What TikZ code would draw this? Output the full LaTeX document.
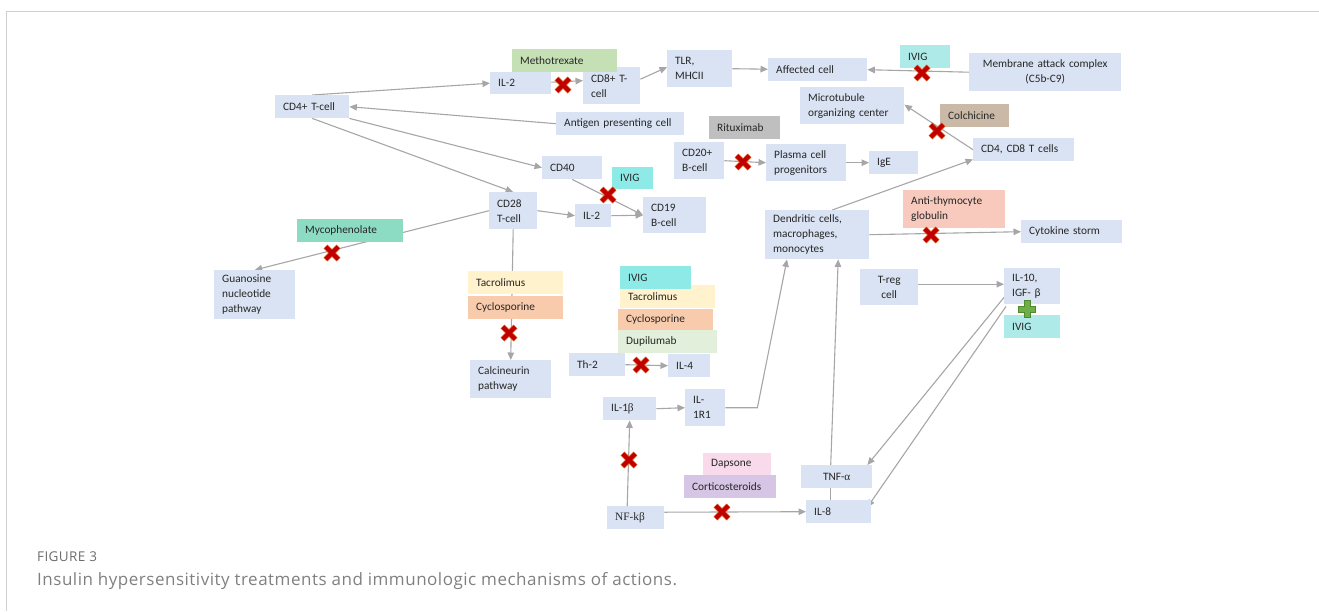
\documentclass[tikz,border=0pt]{standalone}
\usepackage{fontspec}
\setmainfont{Carlito}
\newfontfamily\serifgr{Liberation Serif}
\newfontfamily\capfont[LetterSpace=3]{Open Sans}
\usetikzlibrary{arrows.meta,calc}
\definecolor{boxblue}{HTML}{DAE3F3}
\definecolor{linegray}{HTML}{A6A6A6}
\definecolor{framegray}{HTML}{D0D0D0}
\definecolor{mtxgreen}{HTML}{C5E0B4}
\definecolor{ivigA}{HTML}{8EEAE6}
\definecolor{ivigB}{HTML}{AEEBE8}
\definecolor{mycogreen}{HTML}{8CDCC4}
\definecolor{tacyellow}{HTML}{FFF2CC}
\definecolor{cycorange}{HTML}{F8CBAD}
\definecolor{dupgreen}{HTML}{E2EFDA}
\definecolor{ritgray}{HTML}{BFBFBF}
\definecolor{coltan}{HTML}{C9B9A6}
\definecolor{atgsalmon}{HTML}{F8C9BD}
\definecolor{dappink}{HTML}{F8DAEB}
\definecolor{corlav}{HTML}{D6C5E4}
\definecolor{crossred}{HTML}{C00000}
\definecolor{crossedge}{HTML}{E0601A}
\definecolor{plusgreen}{HTML}{70AD47}
\definecolor{plusedge}{HTML}{4E8A2E}
\definecolor{capgray}{HTML}{808080}
\pgfdeclarelayer{bg}
\pgfsetlayers{bg,main}
% box: [opts]{name}{x1}{y1}{x2}{y2}{fill}{text}
\newcommand\bx[8][]{%
  \pgfmathsetmacro\bxw{#5-#3}%
  \pgfmathsetmacro\bxh{#6-#4}%
  \pgfmathsetmacro\bxt{#5-#3-16}%
  \node[box, fill=#7, minimum width=\bxw pt, minimum height=\bxh pt,
        text width=\bxt pt, anchor=north west, #1] (#2) at (#3,#4) {#8};}
\newcommand\xmk[2]{%
  \draw[line width=5.6pt, crossedge] ({#1-6.5},{#2-6.5}) -- ({#1+6.5},{#2+6.5})
        ({#1-6.5},{#2+6.5}) -- ({#1+6.5},{#2-6.5});
  \draw[line width=4.2pt, crossred] ({#1-6.2},{#2-6.2}) -- ({#1+6.2},{#2+6.2})
        ({#1-6.2},{#2+6.2}) -- ({#1+6.2},{#2-6.2});}
\newcommand\plusmk[2]{%
  \draw[fill=plusgreen, draw=plusedge, line width=0.8pt]
   ({#1-3},{#2-8.5}) -- ({#1+3},{#2-8.5}) -- ({#1+3},{#2-3}) -- ({#1+8.5},{#2-3})
   -- ({#1+8.5},{#2+3}) -- ({#1+3},{#2+3}) -- ({#1+3},{#2+8.5}) -- ({#1-3},{#2+8.5})
   -- ({#1-3},{#2+3}) -- ({#1-8.5},{#2+3}) -- ({#1-8.5},{#2-3}) -- ({#1-3},{#2-3}) -- cycle;}
\begin{document}
\begin{tikzpicture}[x=1pt,y=-1pt,
  box/.style={inner xsep=8pt, inner ysep=0pt, align=left, draw=none,
    font=\fontsize{11.3}{15}\selectfont, text=black!85},
  arr/.style={draw=linegray, line width=1.1pt, -{Triangle[length=7.5pt,width=6.5pt]}},
  plain/.style={draw=linegray, line width=1.1pt}]
\useasboundingbox (0,0) rectangle (1319,611);
\draw[framegray, line width=1.2pt] (6.5,611) -- (6.5,11.5) -- (1319,11.5);

% ---- blue boxes
\bx{il2a}{490}{72}{551}{94}{boxblue}{IL-2}
\bx{cd8}{583}{67}{640}{104}{boxblue}{CD8+ T-\\cell}
\bx{tlr}{667}{50}{732}{87}{boxblue}{TLR,\\MHCII}
\bx{aff}{768}{58}{867}{81}{boxblue}{Affected cell}
\bx[align=center]{mac}{969}{53}{1121}{91}{boxblue}{Membrane attack complex\\(C5b-C9)}
\bx{mtoc}{800}{87}{904}{124}{boxblue}{Microtubule\\organizing center}
\bx{cd48}{973}{138}{1074}{161}{boxblue}{CD4, CD8 T cells}
\bx{cd4}{275}{95}{349}{118}{boxblue}{CD4+ T-cell}
\bx{apc}{556}{112}{684}{135}{boxblue}{Antigen presenting cell}
\bx{cd20}{674}{142}{724}{179}{boxblue}{CD20+\\B-cell}
\bx{plasma}{766}{144}{846}{181}{boxblue}{Plasma cell\\progenitors}
\bx{ige}{869}{151}{918}{174}{boxblue}{IgE}
\bx{cd40}{542}{156}{602}{179}{boxblue}{CD40}
\bx{cd28}{489}{192}{537}{229}{boxblue}{CD28\\T-cell}
\bx{il2b}{575}{204}{611}{227}{boxblue}{IL-2}
\bx{cd19}{643}{197}{706}{233}{boxblue}{CD19\\B-cell}
\bx{dc}{765}{210}{869}{259}{boxblue}{Dendritic cells,\\macrophages,\\monocytes}
\bx{cyt}{1021}{220}{1122}{243}{boxblue}{Cytokine storm}
\bx{guan}{214}{270}{295}{319}{boxblue}{Guanosine\\nucleotide\\pathway}
\bx{calc}{470}{360}{551}{398}{boxblue}{Calcineurin\\pathway}
\bx[align=center]{treg}{860}{269}{918}{305}{boxblue}{T-reg\\cell}
\bx{il10}{1004}{268}{1060}{304}{boxblue}{IL-10,\\IGF- β}
\bx{th2}{569}{353}{625}{376}{boxblue}{Th-2}
\bx{il4}{668}{354}{710}{377}{boxblue}{IL-4}
\bx{il1b}{603}{397}{656}{420}{boxblue}{IL-1{\serifgr β}}
\bx{il1r1}{685}{389}{725}{426}{boxblue}{IL-\\1R1}
\bx{nfk}{607}{506}{664}{529}{boxblue}{{\serifgr NF-kβ}}
\bx[align=center]{tnf}{801}{465}{872}{488}{boxblue}{TNF-{\serifgr α}}
\bx{il8}{806}{500}{871}{523}{boxblue}{IL-8}

% ---- drug boxes
\bx{mtx}{512}{49}{617}{72}{mtxgreen}{Methotrexate}
\bx{ivig1}{900}{45}{950}{68}{ivigB}{IVIG}
\bx{colch}{940}{104}{1009}{127}{coltan}{Colchicine}
\bx{ritux}{709}{116}{780}{139}{ritgray}{Rituximab}
\bx{ivig2}{612}{167}{653}{189}{ivigA}{IVIG}
\bx{atg}{903}{190}{1005}{228}{atgsalmon}{Anti-thymocyte\\globulin}
\bx{myco}{297}{219}{403}{242}{mycogreen}{Mycophenolate}
\bx{tac1}{468}{271}{563}{294}{tacyellow}{Tacrolimus}
\bx{cyc1}{468}{296}{563}{319}{cycorange}{Cyclosporine}
\bx{tac2}{620}{285}{715}{308}{tacyellow}{Tacrolimus}
\bx{ivig3}{620}{266}{691}{289}{ivigA}{IVIG}
\bx{cyc2}{618}{309}{713}{330}{cycorange}{Cyclosporine}
\bx{dup}{618}{330}{717}{353}{dupgreen}{Dupilumab}
\bx{dap}{703}{453}{771}{475}{dappink}{Dapsone}
\bx{cort}{684}{475}{776}{498}{corlav}{Corticosteroids}
\bx{ivig4}{1004}{315}{1060}{338}{ivigB}{IVIG}

% ---- connectors
\begin{pgfonlayer}{bg}
\draw[arr] (cd4.north) -- (il2a.west);
\draw[arr] (apc.west) -- (cd4.east);
\draw[arr] (cd4.south east) -- (cd40.west);
\draw[arr] (cd4.south) -- (cd28.north);
\draw[arr] ($(il2a.east)+(0,-1)$) -- ($(cd8.west)+(0,-5)$);
\draw[arr] ($(cd8.east)+(0,-6.5)$) -- ($(tlr.west)+(0,-1.5)$);
\draw[arr] (tlr.east) -- ($(aff.west)+(0,-0.5)$);
\draw[arr] (mac.west) -- (aff.east);
\draw[arr] (cd48.west) -- ($(mtoc.east)+(0,-1)$);
\draw[arr] ($(dc.north)+(15,0)$) -- ($(cd48.south west)+(0,-2)$);
\draw[arr] (dc.east) -- (cyt.west);
\draw[arr] (cd20.east) -- (plasma.west);
\draw[arr] (plasma.east) -- (ige.west);
\draw[arr] (cd40.south) -- (cd19.west);
\draw[arr] (cd28.east) -- (il2b.west);
\draw[arr] (il2b.east) -- (cd19.west);
\draw[arr] (cd28.west) -- (guan.north);
\draw[arr] (cd28.south) -- (calc.north);
\draw[arr] (th2.east) -- (il4.west);
\draw[arr] ($(nfk.north)+(-8.5,0)$) -- (il1b.south);
\draw[arr] ($(nfk.east)+(0,-5.5)$) -- (il8.west);
\draw[arr] (il1b.east) -- (il1r1.west);
\draw[arr] (il1r1.east) -- ++(32,0) -- ($(dc.south west)+(22,0)$);
\draw[plain] ($(il8.north)+(-8,0)$) -- ($(tnf.south)+(-6,0)$);
\draw[arr] ($(tnf.north)+(-6,0)$) -- ($(dc.south)+(21,0)$);
\draw[arr] ($(treg.east)+(0,-3)$) -- ($(il10.west)+(0,-2)$);
\draw[arr] ($(il10.south west)+(0,-7)$) -- ($(tnf.north east)+(-5,0)$);
\draw[arr] ($(il10.south west)+(2,2)$) -- ($(il8.east)+(-4,-4.5)$);
\end{pgfonlayer}

% ---- inhibition / enhancement marks
\xmk{563}{85}
\xmk{922}{73}
\xmk{937}{131}
\xmk{743}{162}
\xmk{608}{195}
\xmk{931}{235}
\xmk{332}{253}
\xmk{509}{333}
\xmk{641}{365}
\xmk{629}{460}
\xmk{722}{512}
\plusmk{1027}{309}

% ---- caption
\node[anchor=base west, inner sep=0, text=capgray!85!black,
      font=\capfont\fontsize{13.5}{15}\selectfont] (figlab) at (37,561) {FIGURE 3};
\node[anchor=base west, inner sep=0, text=capgray,
      font=\capfont\fontsize{17}{19}\selectfont] (figcap) at (37,585)
      {Insulin hypersensitivity treatments and immunologic mechanisms of actions.};
\end{tikzpicture}
\end{document}
